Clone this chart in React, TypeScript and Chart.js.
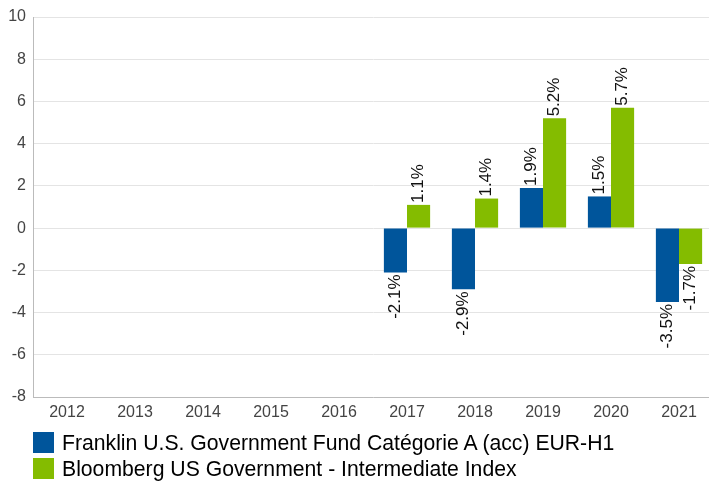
import React, { useEffect, useRef } from "react";
import { Chart, registerables } from "chart.js";

Chart.register(...registerables);

const categories = ["2012", "2013", "2014", "2015", "2016", "2017", "2018", "2019", "2020", "2021"];
const fundLabel = "Franklin U.S. Government Fund Catégorie A (acc) EUR-H1";
const indexLabel = "Bloomberg US Government - Intermediate Index";
const fundValues: (number | null)[] = [null, null, null, null, null, -2.1, -2.9, 1.9, 1.5, -3.5];
const indexValues: (number | null)[] = [null, null, null, null, null, 1.1, 1.4, 5.2, 5.7, -1.7];
const yMin = -8;
const yMax = 10;
const yStep = 2;

const BLUE = "#00559b";
const GREEN = "#84bc00";
const FONT = "'Liberation Sans', Arial, sans-serif";

const labelPlugin = {
  id: "barValueLabels",
  afterDatasetsDraw(chart: any) {
    const ctx = chart.ctx;
    ctx.save();
    ctx.font = `17px ${FONT}`;
    ctx.fillStyle = "#111";
    ctx.textBaseline = "middle";
    chart.data.datasets.forEach((ds: any, di: number) => {
      const meta = chart.getDatasetMeta(di);
      meta.data.forEach((bar: any, i: number) => {
        const v = ds.data[i];
        if (v === null || v === undefined) return;
        const text = v.toFixed(1) + "%";
        ctx.save();
        ctx.translate(bar.x, bar.y);
        ctx.rotate(-Math.PI / 2);
        if (v >= 0) {
          ctx.textAlign = "left";
          ctx.fillText(text, 2, 0);
        } else {
          ctx.textAlign = "right";
          ctx.fillText(text, -2, 0);
        }
        ctx.restore();
      });
    });
    ctx.restore();
  },
};

export default function App() {
  const ref = useRef<HTMLCanvasElement>(null);

  useEffect(() => {
    if (!ref.current) return;
    const chart = new Chart(ref.current, {
      type: "bar",
      data: {
        labels: categories,
        datasets: [
          { label: fundLabel, data: fundValues, backgroundColor: BLUE, borderWidth: 0 },
          { label: indexLabel, data: indexValues, backgroundColor: GREEN, borderWidth: 0 },
        ],
      },
      options: {
        animation: false,
        responsive: false,
        maintainAspectRatio: false,
        devicePixelRatio: 1,
        layout: { padding: { top: 17, right: 0, left: 0, bottom: 54 } },
        datasets: { bar: { categoryPercentage: 0.68, barPercentage: 1 } },
        plugins: { legend: { display: false }, tooltip: { enabled: false } },
        scales: {
          x: {
            grid: { display: false, drawTicks: false },
            border: { display: true, color: "#bbbbbb", width: 1 },
            ticks: { color: "#444", font: { family: FONT, size: 16 }, padding: 6, maxRotation: 0 },
            afterFit: (s: any) => { s.height = 30; },
          },
          y: {
            min: yMin,
            max: yMax,
            grid: { color: "#e4e4e4", drawTicks: false, lineWidth: 1 },
            border: { display: true, color: "#bbbbbb", width: 1 },
            ticks: { stepSize: yStep, color: "#444", font: { family: FONT, size: 16 }, padding: 7 },
            afterFit: (s: any) => { s.width = 33; },
          },
        },
      },
      plugins: [labelPlugin],
    });
    return () => chart.destroy();
  }, []);

  const legendItem = (color: string, text: string, top: number) => (
    <div style={{ position: "absolute", left: 33, top, height: 21, display: "flex", alignItems: "center" }}>
      <div style={{ width: 21, height: 21, background: color }} />
      <span style={{ marginLeft: 8, fontFamily: FONT, fontSize: 21.2, color: "#000", whiteSpace: "nowrap", lineHeight: "21px" }}>{text}</span>
    </div>
  );

  return (
    <div style={{ position: "absolute", left: 0, top: 0, width: 709, height: 481, background: "#fff", overflow: "hidden" }}>
      <canvas ref={ref} width={713} height={481} style={{ position: "absolute", left: 0, top: 0, width: 713, height: 481 }} />
      {legendItem(BLUE, fundLabel, 432)}
      {legendItem(GREEN, indexLabel, 458)}
    </div>
  );
}
